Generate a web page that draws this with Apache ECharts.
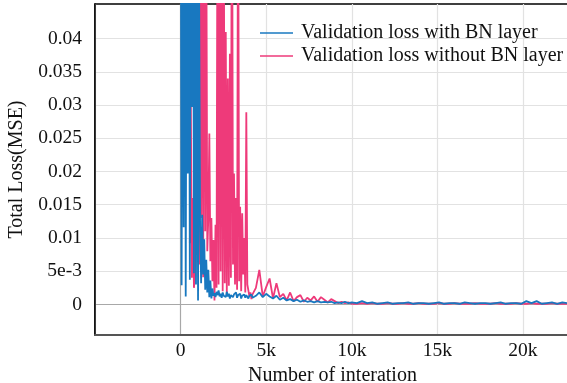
<!DOCTYPE html>
<html>
<head>
<meta charset="utf-8">
<script src="https://cdn.jsdelivr.net/npm/echarts@6/dist/echarts.min.js"></script>
<style>
  html, body { margin: 0; padding: 0; background: #fff; }
  #chart { width: 567px; height: 383px; }
</style>
</head>
<body>
<div id="chart"></div>
<script>
// training step at which each validation loss was logged
const iterations = [
  0, 60, 120, 180, 240, 300, 360, 420, 480, 540, 600, 660, 720, 780, 840, 900, 960, 1020, 1080, 1140,
  1200, 1260, 1320, 1380, 1440, 1500, 1560, 1620, 1680, 1740, 1800, 1860, 1920, 1980, 2040, 2100, 2160,
  2220, 2280, 2340, 2400, 2460, 2520, 2580, 2640, 2700, 2760, 2820, 2880, 2940, 3000, 3060, 3120, 3180,
  3240, 3300, 3360, 3420, 3480, 3540, 3600, 3660, 3720, 3780, 3840, 3900, 3960, 4020, 4080, 4140, 4200,
  4400, 4600, 4800, 5000, 5200, 5400, 5600, 5800, 6000, 6200, 6400, 6600, 6800, 7000, 7200, 7400, 7600,
  7800, 8000, 8200, 8400, 8600, 8800, 9000, 9200, 9400, 9600, 9800, 10000,
  10300, 10600, 10900, 11200, 11500, 11800, 12100, 12400, 12700, 13000, 13300, 13600, 13900, 14200,
  14500, 14800, 15100, 15400, 15700, 16000, 16300, 16600, 16900, 17200, 17500, 17800, 18100, 18400,
  18700, 19000, 19300, 19600, 19900, 20200, 20500, 20800, 21100, 21400, 21700, 22000, 22300, 22600, 22900
];

const lossWithBN = [
  0.08, 0.0029, 0.07, 0.0116, 0.09, 0.0012, 0.06, 0.0197, 0.075, 0.0037, 0.065, 0.0297, 0.085, 0.0047,
  0.07, 0.0030, 0.055, 0.0006, 0.05, 0.0120, 0.0032, 0.0135, 0.0045, 0.0098, 0.0022, 0.0067, 0.0018,
  0.0052, 0.0011, 0.0036, 0.0009, 0.0024, 0.0013, 0.0017, 0.0011, 0.0019, 0.0014, 0.0021, 0.0012, 0.0016,
  0.0010, 0.0018, 0.0013, 0.0015, 0.0011, 0.0019, 0.0012, 0.0016, 0.0009, 0.0014, 0.0017, 0.0011, 0.0015,
  0.0012, 0.0018, 0.0010, 0.0014, 0.0012, 0.0016, 0.0009, 0.0013, 0.0011, 0.0015, 0.0010, 0.0014, 0.0012,
  0.0009, 0.0013, 0.0011, 0.0015, 0.0010,
  0.0013, 0.0018, 0.0011, 0.0016, 0.0012, 0.0009, 0.0013, 0.0007, 0.0010, 0.0006, 0.0008, 0.0005, 0.0007,
  0.0004, 0.0006, 0.0004, 0.0005, 0.0003, 0.0005, 0.0003, 0.0004, 0.0003, 0.0004, 0.0002, 0.0003, 0.0002,
  0.0004, 0.0002, 0.0003,
  0.0002, 0.0005, 0.0002, 0.0003, 0.0001, 0.0002, 0.0003, 0.0001, 0.0002, 0.0002, 0.0003, 0.0001, 0.0002,
  0.0002, 0.0001, 0.0002, 0.0003, 0.0001, 0.0002, 0.0002, 0.0001, 0.0003, 0.0002, 0.0001, 0.0002, 0.0002,
  0.0001, 0.0002, 0.0003, 0.0001, 0.0002, 0.0002, 0.0001, 0.0005, 0.0002, 0.0005, 0.0001, 0.0002, 0.0003,
  0.0001, 0.0003, 0.0002, 0.0002
];

// no BN run logs nothing for the first few hundred steps
const lossWithoutBN = [
  null, null, null, null, null, null, null, null, null, 0.0092, 0.030, 0.0040, 0.016, 0.0025, 0.0045,
  0.07, 0.0095, 0.08, 0.0060, 0.085, 0.0130, 0.07, 0.0041, 0.09, 0.0110, 0.06, 0.0080, 0.0130, 0.0257,
  0.0065, 0.0130, 0.0035, 0.0097, 0.0006, 0.0120, 0.0025, 0.07, 0.0030, 0.08, 0.0050, 0.075, 0.0020,
  0.065, 0.0032, 0.041, 0.0015, 0.034, 0.0028, 0.0377, 0.0040, 0.08, 0.0060, 0.0197, 0.0030, 0.0160,
  0.0022, 0.07, 0.0035, 0.0147, 0.0020, 0.0137, 0.0045, 0.0100, 0.0018, 0.0289, 0.0030, 0.0021, 0.0012,
  0.0018, 0.0008, 0.0015,
  0.0025, 0.0052, 0.0012, 0.0026, 0.0039, 0.0009, 0.0032, 0.0011, 0.0016, 0.0006, 0.0018, 0.0005, 0.0011,
  0.0014, 0.0004, 0.0010, 0.0006, 0.0012, 0.0004, 0.0011, 0.0007, 0.0003, 0.0008, 0.0005, 0.0002, 0.0004,
  0.0002, 0.0003, 0.0001,
  0.0001, 0.0002, 0.0001, 0.0002, 0.0001, 0.0001, 0.0002, 0.0001, 0.0001, 0.0002, 0.0001, 0.0001, 0.0002,
  0.0001, 0.0001, 0.0001, 0.0002, 0.0001, 0.0001, 0.0002, 0.0001, 0.0001, 0.0001, 0.0002, 0.0001, 0.0001,
  0.0001, 0.0002, 0.0001, 0.0001, 0.0001, 0.0002, 0.0001, 0.0001, 0.0002, 0.0001, 0.0001, 0.0001, 0.0002,
  0.0001, 0.0001, 0.0001, 0.0001
];

const yTickValues = [0, 0.005, 0.01, 0.015, 0.02, 0.025, 0.03, 0.035, 0.04];
const yTickLabels = ['0', '5e-3', '0.01', '0.015', '0.02', '0.025', '0.03', '0.035', '0.04'];

const seriesNames = ['Validation loss with BN layer', 'Validation loss without BN layer'];

const toPairs = (values) =>
  iterations.map((x, i) => [x, values[i]]).filter((p) => p[1] != null);

const font = 'Liberation Serif, Times New Roman, serif';
const light = '#e2e2e2';
const dark = '#a8a8a8';

const chart = echarts.init(document.getElementById('chart'), null, { renderer: 'canvas' });
chart.setOption({
  animation: false,
  backgroundColor: '#fff',
  grid: {
    left: 95, top: 4, right: -3, bottom: 48,
    outerBoundsMode: 'none',
    containLabel: false,
    show: true, borderColor: '#000', borderWidth: 1.5
  },
  legend: {
    orient: 'vertical',
    left: 260, top: 23,
    padding: 0,
    icon: 'rect',
    itemWidth: 33, itemHeight: 1.6, itemGap: 3,
    data: seriesNames,
    textStyle: { fontFamily: font, fontSize: 20, color: '#111', padding: [0, 0, 0, 3] }
  },
  xAxis: {
    type: 'value',
    min: -5000, max: 22750, interval: 5000,
    name: 'Number of interation',
    nameLocation: 'middle',
    nameGap: 25,
    nameTextStyle: { fontFamily: font, fontSize: 20, color: '#111' },
    axisLine: { show: true, onZero: false, lineStyle: { color: '#555', width: 2 } },
    axisTick: { show: false },
    axisLabel: {
      fontFamily: font, fontSize: 19.5, color: '#111', margin: 6,
      showMinLabel: false, showMaxLabel: false,
      formatter: (v) => (v <= 0 ? (v === 0 ? '0' : '') : v / 1000 + 'k')
    },
    splitLine: {
      show: true,
      lineStyle: { color: [light, dark, light, light, light, light, light], width: 1.2 }
    }
  },
  yAxis: {
    type: 'value',
    min: -0.0046, max: 0.0452,
    name: 'Total Loss(MSE)',
    nameLocation: 'middle',
    nameGap: 62,
    nameTextStyle: { fontFamily: font, fontSize: 20, color: '#111' },
    axisLine: { show: true, onZero: false, lineStyle: { color: '#000', width: 1.5 } },
    axisTick: { show: false, customValues: yTickValues },
    axisLabel: {
      fontFamily: font, fontSize: 19.5, color: '#111', margin: 13,
      customValues: yTickValues,
      formatter: (v) => yTickLabels[yTickValues.indexOf(v)] ?? ''
    },
    splitLine: {
      show: true,
      lineStyle: { color: [dark, light, light, light, light, light, light, light, light], width: 1.2 }
    }
  },
  series: [
    {
      name: seriesNames[1],
      type: 'line',
      data: toPairs(lossWithoutBN),
      symbol: 'none',
      sampling: false,
      lineStyle: { color: '#ee3a7a', width: 1.8 },
      itemStyle: { color: '#ee3a7a' }
    },
    {
      name: seriesNames[0],
      type: 'line',
      data: toPairs(lossWithBN),
      symbol: 'none',
      sampling: false,
      lineStyle: { color: '#1878c0', width: 1.8 },
      itemStyle: { color: '#1878c0' }
    }
  ]
});
</script>
</body>
</html>
